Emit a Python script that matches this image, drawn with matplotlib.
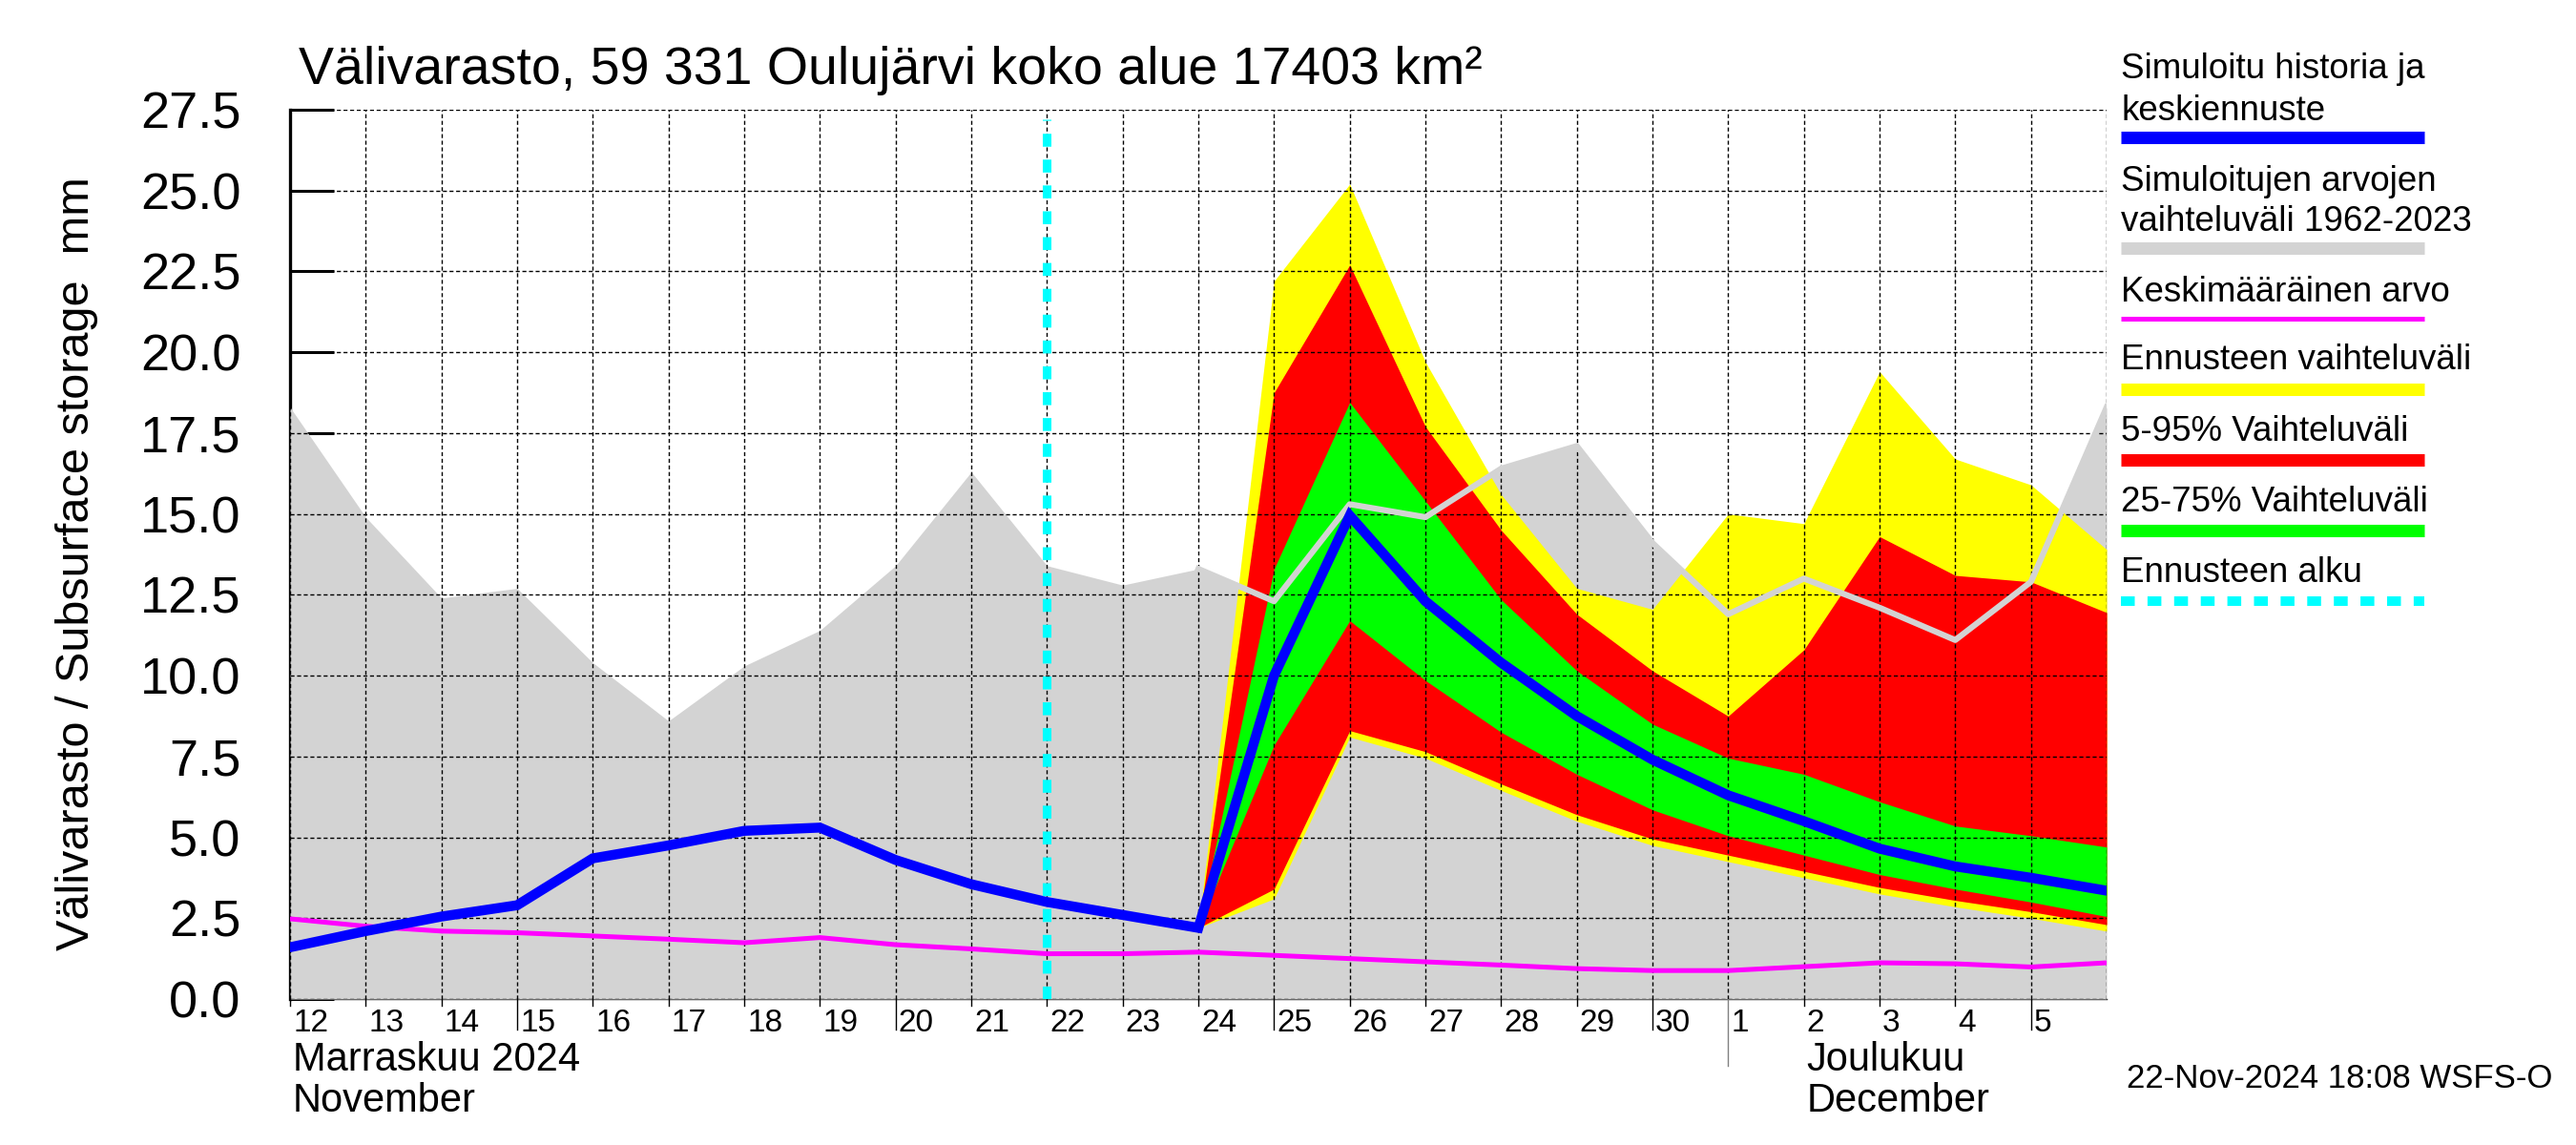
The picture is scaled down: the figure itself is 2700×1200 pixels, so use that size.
import matplotlib
matplotlib.use('agg')
import matplotlib.pyplot as plt
import matplotlib.dates as mdates
import matplotlib.transforms as mtransforms
from matplotlib.lines import Line2D
import numpy as np
import pandas as pd

plt.rcParams['font.family'] = ['Liberation Sans', 'DejaVu Sans']

# daily values, 12 Nov 2024 ... 6 Dec 2024
dates = pd.date_range('2024-11-12', '2024-12-06', freq='D')
day_labels = [str(d.day) for d in dates[:-1]]

hist_high = [18.3, 14.9, 12.4, 12.7, 10.4, 8.6, 10.3, 11.4, 13.4, 16.3, 13.4, 12.8, 13.3,
             12.3, 15.3, 14.9, 16.4, 17.1, 14.1, 11.9, 13.0, 12.1, 11.1, 12.9, 18.3]
hist_low = [0.0] * 25
mean_val = [2.48, 2.25, 2.1, 2.05, 1.95, 1.85, 1.74, 1.9, 1.68, 1.55, 1.4, 1.4, 1.45,
            1.35, 1.25, 1.15, 1.05, 0.94, 0.88, 0.88, 1.0, 1.12, 1.09, 0.99, 1.12]
sim = [1.6, 2.1, 2.55, 2.9, 4.35, 4.75, 5.2, 5.3, 4.3, 3.55, 3.0, 2.6, 2.2,
       10.0, 14.95, 12.3, 10.4, 8.75, 7.4, 6.3, 5.5, 4.65, 4.1, 3.75, 3.35]

# forecast, 24 Nov ... 6 Dec
fc_dates = dates[12:]
fc_max = [2.2, 22.2, 25.2, 19.7, 15.6, 12.7, 12.05, 15.0, 14.7, 19.4, 16.7, 15.9, 13.9]
fc_min = [2.2, 3.1, 8.1, 7.45, 6.45, 5.5, 4.75, 4.25, 3.75, 3.25, 2.85, 2.5, 2.1]
p95 = [2.2, 18.75, 22.7, 17.7, 14.5, 11.9, 10.15, 8.75, 10.8, 14.3, 13.1, 12.9, 11.95]
p05 = [2.2, 3.4, 8.3, 7.65, 6.65, 5.7, 4.95, 4.45, 3.95, 3.45, 3.05, 2.7, 2.3]
p75 = [2.2, 13.3, 18.45, 15.4, 12.35, 10.15, 8.5, 7.45, 6.95, 6.1, 5.35, 5.05, 4.7]
p25 = [2.2, 7.85, 11.7, 9.85, 8.25, 6.95, 5.85, 5.05, 4.45, 3.85, 3.4, 3.0, 2.55]
fc_start = pd.Timestamp('2024-11-22')

yticks = np.arange(0, 27.6, 2.5)
long_tick_days = [15, 20, 25, 30, 5]

fig = plt.figure(figsize=(27, 12), dpi=100)
ax = fig.add_axes([0.1126, 0.1275, 0.7052, 0.7767])
ax.set_axisbelow(True)

ax.fill_between(dates, hist_low, hist_high, color='#d3d3d3', lw=0, zorder=1)
ax.fill_between(fc_dates, fc_min, fc_max, color='#ffff00', lw=0, zorder=2)
ax.fill_between(fc_dates, p05, p95, color='#ff0000', lw=0, zorder=2.1)
ax.fill_between(fc_dates, p25, p75, color='#00ff00', lw=0, zorder=2.2)

# grid on top of the fills
ax.vlines(dates, 0, 27.5, colors='k', linestyles=(0, (3, 2)), lw=1.0, zorder=3)
ax.hlines(yticks, dates[0], dates[-1], colors='k', linestyles=(0, (3, 2)), lw=1.0, zorder=3)

ax.plot(fc_dates, hist_high[12:], color='#d3d3d3', lw=4.5, zorder=4)
ax.plot(dates, mean_val, color='#ff00ff', lw=3.6, zorder=4.2)
ax.plot(dates, sim, color='#0000ff', lw=7.5, zorder=4.5, solid_joinstyle='miter')
ax.vlines([fc_start], 0, 27.2, colors='#00ffff', lw=6.5, linestyles=(0, (1.5, 1.5)), zorder=5)

ax.set_xlim(dates[0], dates[-1])
ax.set_ylim(0, 27.5)
ax.set_yticks(yticks)
ax.set_yticklabels([f'{v:.1f}' for v in yticks])
ax.tick_params(axis='y', direction='in', length=33, width=2.2, pad=37, labelsize=39)
ax.set_xticks(dates[:-1])
ax.set_xticklabels(day_labels)
ax.tick_params(axis='x', length=0, pad=7, labelsize=24)
off = mtransforms.ScaledTranslation(3 / 100, 0, fig.dpi_scale_trans)
for lbl in ax.get_xticklabels():
    lbl.set_horizontalalignment('left')
    lbl.set_transform(lbl.get_transform() + off)

for s in ['top', 'right']:
    ax.spines[s].set_visible(False)
ax.spines['left'].set_linewidth(2.4)
ax.spines['left'].set_zorder(0.5)
ax.spines['bottom'].set_linewidth(1.0)
ax.spines['bottom'].set_zorder(0.5)

# day ticks below the axis
trans = ax.get_xaxis_transform()
xnum = mdates.date2num(dates[:-1])
for x, d in zip(xnum, dates[:-1]):
    if d.day == 1:
        ln = 0.075
        col = '#808080'
    elif d.day in long_tick_days:
        ln = 0.034
        col = 'k'
    else:
        ln = 0.008
        col = 'k'
    ax.plot([x, x], [0, -ln], transform=trans, color=col, lw=1.0, clip_on=False)

ax.text(mdates.date2num(dates[0]), -0.0805, 'Marraskuu 2024', transform=trans + off,
        fontsize=30, va='baseline', ha='left')
ax.text(mdates.date2num(dates[0]), -0.1266, 'November', transform=trans + off,
        fontsize=30, va='baseline', ha='left')
ax.text(mdates.date2num(dates[20]), -0.0805, 'Joulukuu', transform=trans + off,
        fontsize=30, va='baseline', ha='left')
ax.text(mdates.date2num(dates[20]), -0.1266, 'December', transform=trans + off,
        fontsize=30, va='baseline', ha='left')

fig.text(0.1159, 0.9267, 'Välivarasto, 59 331 Oulujärvi koko alue 17403 km²',
         fontsize=40, va='baseline', ha='left')
fig.text(0.030, 0.508, 'Välivarasto / Subsurface storage  mm', rotation=90,
         fontsize=35, va='center', ha='center')
fig.text(0.991, 0.05, '22-Nov-2024 18:08 WSFS-O', fontsize=25, va='baseline', ha='right')

# legend
lx0, lx1 = 0.8234, 0.941
legend_items = [
    (['Simuloitu historia ja', 'keskiennuste'], [72, 116], 144, '#0000ff', 9.4, '-'),
    (['Simuloitujen arvojen', 'vaihteluväli 1962-2023'], [190, 232], 260, '#d3d3d3', 9.4, '-'),
    (['Keskimääräinen arvo'], [307], 334, '#ff00ff', 3.6, '-'),
    (['Ennusteen vaihteluväli'], [378], 408, '#ffff00', 9.4, '-'),
    (['5-95% Vaihteluväli'], [452], 482, '#ff0000', 9.4, '-'),
    (['25-75% Vaihteluväli'], [527], 556, '#00ff00', 9.4, '-'),
    (['Ennusteen alku'], [600], 630, '#00ffff', 7.2, (0, (1.45, 1.34))),
]
for texts, ys, ybar, col, lw, ls in legend_items:
    for t, y in zip(texts, ys):
        fig.text(lx0, 1 - y / 1200, t, fontsize=26.5, va='center', ha='left')
    fig.add_artist(Line2D([lx0, lx1], [1 - ybar / 1200] * 2, color=col, lw=lw,
                          linestyle=ls, solid_capstyle='butt', dash_capstyle='butt'))

fig.savefig('out.png', dpi=100)
